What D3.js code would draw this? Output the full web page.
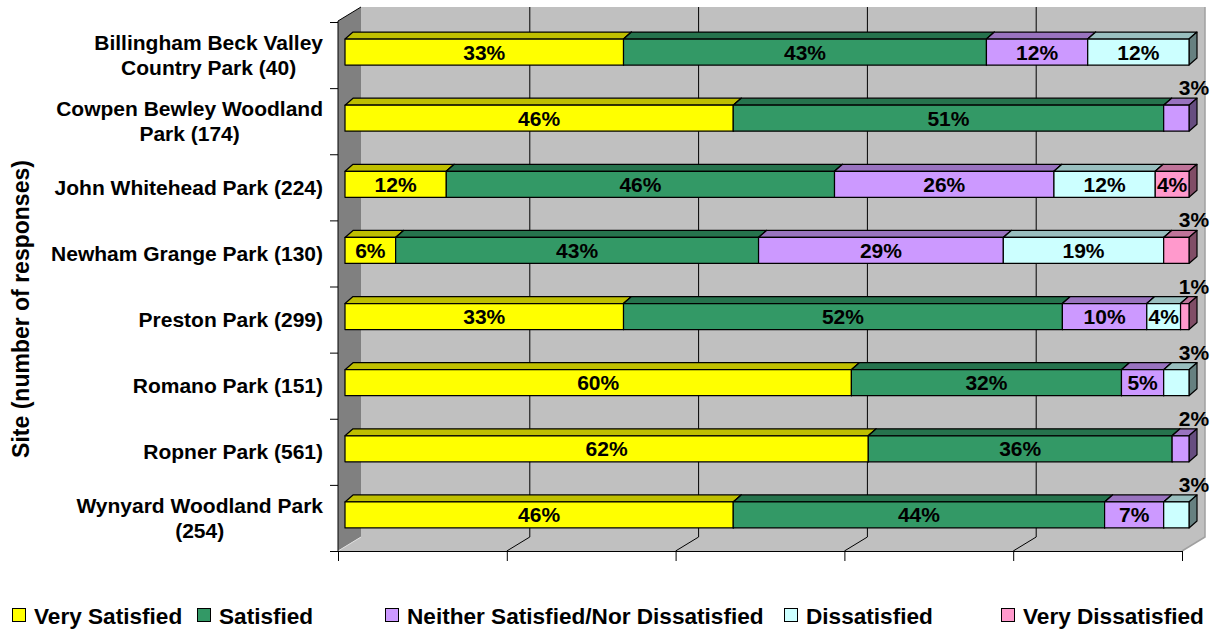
<!DOCTYPE html>
<html>
<head>
<meta charset="utf-8">
<script src="https://cdn.jsdelivr.net/npm/d3@7"></script>
<style>
  body { margin: 0; background: #fff; }
  svg { font-family: "Liberation Sans", Arial, sans-serif; font-weight: bold; }
</style>
</head>
<body>
<svg id="chart" width="1219" height="630"></svg>
<script>
// categories (line breaks as in the original wrapped labels)
const sites = [
  "Billingham Beck Valley\nCountry Park (40)",
  "Cowpen Bewley Woodland\nPark (174)",
  "John Whitehead Park (224)",
  "Newham Grange Park (130)",
  "Preston Park (299)",
  "Romano Park (151)",
  "Ropner Park (561)",
  "Wynyard Woodland Park\n(254)"
];
const seriesNames = ["Very Satisfied", "Satisfied", "Neither Satisfied/Nor Dissatisfied", "Dissatisfied", "Very Dissatisfied"];
const seriesColors = ["#FFFF00", "#339966", "#CC99FF", "#CCFFFF", "#FF99CC"];

// percentages per site
const verySatisfied    = [33, 46, 12,  6, 33, 60, 62, 46];
const satisfied        = [43, 51, 46, 43, 52, 32, 36, 44];
const neither          = [12,  3, 26, 29, 10,  5,  2,  7];
const dissatisfied     = [12,  0, 12, 19,  4,  3,  0,  3];
const veryDissatisfied = [ 0,  0,  4,  3,  1,  0,  0,  0];

const xTicks = [0, 20, 40, 60, 80, 100];
const axisTitle = "Site (number of responses)";

const table = sites.map((s, i) => ({
  site: s,
  [seriesNames[0]]: verySatisfied[i],
  [seriesNames[1]]: satisfied[i],
  [seriesNames[2]]: neither[i],
  [seriesNames[3]]: dissatisfied[i],
  [seriesNames[4]]: veryDissatisfied[i]
}));

const svg = d3.select("#chart");

// front plane of the plot box and 3D offsets
const pLeft = 338, pRight = 1182, pTop = 21, pBottom = 551;
const wall = {dx: 23, dy: -14};
const bar = {dx: 8, dy: -7, ox: 7, oy: -3, h: 26};

const x = d3.scaleLinear().domain([0, 100]).range([pLeft, pRight]);
const y = d3.scaleBand().domain(sites).range([22, pBottom]);
const color = d3.scaleOrdinal().domain(seriesNames).range(seriesColors);

const shade = (c, k) => { const o = d3.rgb(c); return d3.rgb(o.r * k, o.g * k, o.b * k).formatHex(); };

// walls
const walls = svg.append("g");
walls.append("rect")
  .attr("x", pLeft + wall.dx).attr("y", pTop + wall.dy)
  .attr("width", pRight - pLeft).attr("height", pBottom - pTop)
  .attr("fill", "#C0C0C0");
walls.append("polygon")
  .attr("points", [[pLeft, pBottom], [pLeft + wall.dx, pBottom + wall.dy], [pRight + wall.dx, pBottom + wall.dy], [pRight, pBottom]].join(" "))
  .attr("fill", "#C0C0C0");
walls.append("polygon")
  .attr("points", [[pLeft, pTop], [pLeft + wall.dx, pTop + wall.dy], [pLeft + wall.dx, pBottom + wall.dy], [pLeft, pBottom]].join(" "))
  .attr("fill", "#808080");
// right edge shadow
walls.append("path")
  .attr("d", `M${pRight + wall.dx},${pTop + wall.dy}V${pBottom + wall.dy}L${pRight},${pBottom}`)
  .attr("fill", "none").attr("stroke", "#A0A0A0").attr("stroke-width", 1.5);
walls.append("line")
  .attr("x1", pLeft).attr("y1", pTop).attr("x2", pLeft + wall.dx).attr("y2", pTop + wall.dy)
  .attr("stroke", "#000");
walls.append("line")
  .attr("x1", pLeft).attr("y1", pBottom).attr("x2", pLeft + wall.dx).attr("y2", pBottom + wall.dy)
  .attr("stroke", "#E0E0E0");

// gridlines on back wall and floor
const grid = svg.append("g").attr("stroke", "#000").attr("fill", "none");
grid.selectAll("path")
  .data(xTicks.filter(t => t > 0 && t < 100))
  .join("path")
  .attr("d", t => `M${x(t) + wall.dx},${pTop + wall.dy}V${pBottom + wall.dy}L${x(t)},${pBottom}`);

// axes
svg.append("g")
  .attr("transform", `translate(0,${pBottom})`)
  .call(d3.axisBottom(x).tickValues(xTicks).tickFormat("").tickSize(10).tickSizeOuter(0))
  .call(g => g.selectAll("path,line").attr("stroke", "#000"));

const yEdge = d3.scaleLinear().domain([0, sites.length]).range([22, pBottom]);
svg.append("g")
  .attr("transform", `translate(${pLeft},0)`)
  .call(d3.axisLeft(yEdge).ticks(sites.length).tickFormat("").tickSize(8).tickSizeOuter(0))
  .call(g => g.select(".domain").attr("d", `M0,${pTop}V${pBottom}`))
  .call(g => g.selectAll("path,line").attr("stroke", "#000"));

// category labels: block right-aligned, lines centred within it
const lineH = 24.5;
const labels = svg.append("g").attr("font-size", "21px").attr("fill", "#000");
sites.forEach(s => {
  const lines = s.split("\n");
  const cy = y(s) + y.bandwidth() / 2;
  const t = labels.append("text").attr("text-anchor", "middle");
  lines.forEach((ln, i) => {
    t.append("tspan").attr("x", 0).attr("y", cy - (lines.length - 1) * lineH / 2 + i * lineH + 7.5).text(ln);
  });
  const w = d3.max(t.selectAll("tspan").nodes(), n => n.getComputedTextLength());
  t.selectAll("tspan").attr("x", 323 - w / 2);
});

// axis title
svg.append("text")
  .attr("transform", "translate(29,309) rotate(-90)")
  .attr("text-anchor", "middle")
  .attr("font-size", "23px")
  .text(axisTitle);

// stacked 3D bars
const stack = d3.stack().keys(seriesNames)(table);
const segs = [];
stack.forEach(layer => layer.forEach(d => {
  const v = d[1] - d[0];
  if (v > 0) segs.push({key: layer.key, site: d.data.site, v, x0: x(d[0]) + bar.ox, x1: x(d[1]) + bar.ox});
}));
segs.forEach(s => {
  s.top = y(s.site) + y.bandwidth() / 2 + bar.oy - bar.h / 2;
  s.bot = s.top + bar.h;
});

const bars = svg.append("g").attr("stroke", "#000").attr("stroke-width", 1.2).attr("stroke-linejoin", "round");
segs.forEach(s => {
  const c = color(s.key);
  const g = bars.append("g");
  g.append("polygon")
    .attr("points", [[s.x0, s.top], [s.x0 + bar.dx, s.top + bar.dy], [s.x1 + bar.dx, s.top + bar.dy], [s.x1, s.top]].join(" "))
    .attr("fill", shade(c, 0.75));
  g.append("polygon")
    .attr("points", [[s.x1, s.top], [s.x1 + bar.dx, s.top + bar.dy], [s.x1 + bar.dx, s.bot + bar.dy], [s.x1, s.bot]].join(" "))
    .attr("fill", shade(c, 0.5));
  g.append("rect")
    .attr("x", s.x0).attr("y", s.top)
    .attr("width", s.x1 - s.x0).attr("height", bar.h)
    .attr("fill", c);
});

// value labels
svg.append("g").attr("font-size", "21px").attr("text-anchor", "middle")
  .selectAll("text")
  .data(segs)
  .join("text")
  .attr("x", s => s.v < 4 ? s.x1 + 5 : (s.x0 + s.x1) / 2)
  .attr("y", s => s.v < 4 ? s.top - 10 : (s.top + s.bot) / 2 + 7.5)
  .text(s => s.v + "%");

// legend
const legendX = [12, 197, 385, 784, 1001];
const legend = svg.append("g").attr("font-size", "22.6px");
seriesNames.forEach((n, i) => {
  const g = legend.append("g").attr("transform", `translate(${legendX[i]},608)`);
  g.append("rect").attr("x", 0.5).attr("y", 0.5).attr("width", 13).attr("height", 13)
    .attr("fill", color(n)).attr("stroke", "#000");
  g.append("text").attr("x", 22).attr("y", 15.5).text(n);
});
</script>
</body>
</html>
